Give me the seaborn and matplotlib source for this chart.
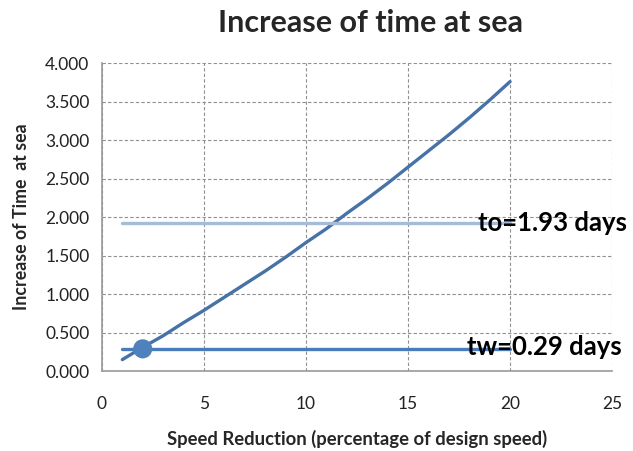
import matplotlib
matplotlib.use("Agg")
import matplotlib.pyplot as plt
import seaborn as sns
import pandas as pd
import numpy as np

# Data
speed_reduction = [1, 2, 3, 4, 5, 6, 7, 8, 9, 10, 11, 12, 13, 14, 15, 16, 17, 18, 19, 20]
time_increase = [0.15, 0.31, 0.46, 0.63, 0.79, 0.96, 1.13, 1.30, 1.48, 1.67,
                 1.85, 2.05, 2.24, 2.44, 2.65, 2.86, 3.07, 3.29, 3.52, 3.76]
to_x = [1, 20]
to_y = [1.93, 1.93]
tw_x = [1, 20]
tw_y = [0.29, 0.29]
point_x = [2]
point_y = [0.29]
to_label = "to=1.93 days"
tw_label = "tw=0.29 days"

sns.set_theme(style="white")
plt.rcParams['font.family'] = ['Lato', 'DejaVu Sans']

fig = plt.figure(figsize=(6.33, 4.51), dpi=100)
ax = fig.add_axes([0.161, 0.177, 0.806, 0.683])

df_curve = pd.DataFrame({"x": speed_reduction, "y": time_increase})
sns.lineplot(data=df_curve, x="x", y="y", ax=ax, color="#4672A8", linewidth=2.4)
sns.lineplot(x=to_x, y=to_y, ax=ax, color="#A6BBDA", linewidth=2.4)
sns.lineplot(x=tw_x, y=tw_y, ax=ax, color="#4A7BBA", linewidth=2.4)
sns.scatterplot(x=point_x, y=point_y, ax=ax, color="#4F81BD", s=190, edgecolor="none", zorder=5)

ax.text(18.43, to_y[0], to_label, fontsize=18.5, fontweight="bold", va="center", ha="left", color="black")
ax.text(17.9, tw_y[0] + 0.03, tw_label, fontsize=18.5, fontweight="bold", va="center", ha="left", color="black")

ax.set_xlim(0, 25)
ax.set_ylim(0, 4)
ax.set_xticks([0, 5, 10, 15, 20, 25])
ax.set_yticks(np.arange(0, 4.01, 0.5))
ax.set_yticklabels([f"{v:.3f}" for v in np.arange(0, 4.01, 0.5)])
ax.tick_params(axis="both", length=0, labelsize=12.5, colors="#222222")
ax.tick_params(axis="y", pad=9)
ax.tick_params(axis="x", pad=18)

ax.grid(True, linestyle=(0, (3, 2)), color="#909090", linewidth=0.8)
for s in ["top", "right"]:
    ax.spines[s].set_visible(False)
for s in ["left", "bottom"]:
    ax.spines[s].set_color("#999999")
    ax.spines[s].set_linewidth(1.2)

ax.set_xlabel("Speed Reduction (percentage of design speed)", fontsize=13.3, fontweight="bold", labelpad=13)
ax.set_ylabel("Increase of Time  at sea", fontsize=12.8, fontweight="bold", labelpad=11)
fig.text(0.585, 0.95, "Increase of time at sea", fontsize=22, fontweight="bold", ha="center", va="center")

fig.savefig("out.png", dpi=100, facecolor="white")
